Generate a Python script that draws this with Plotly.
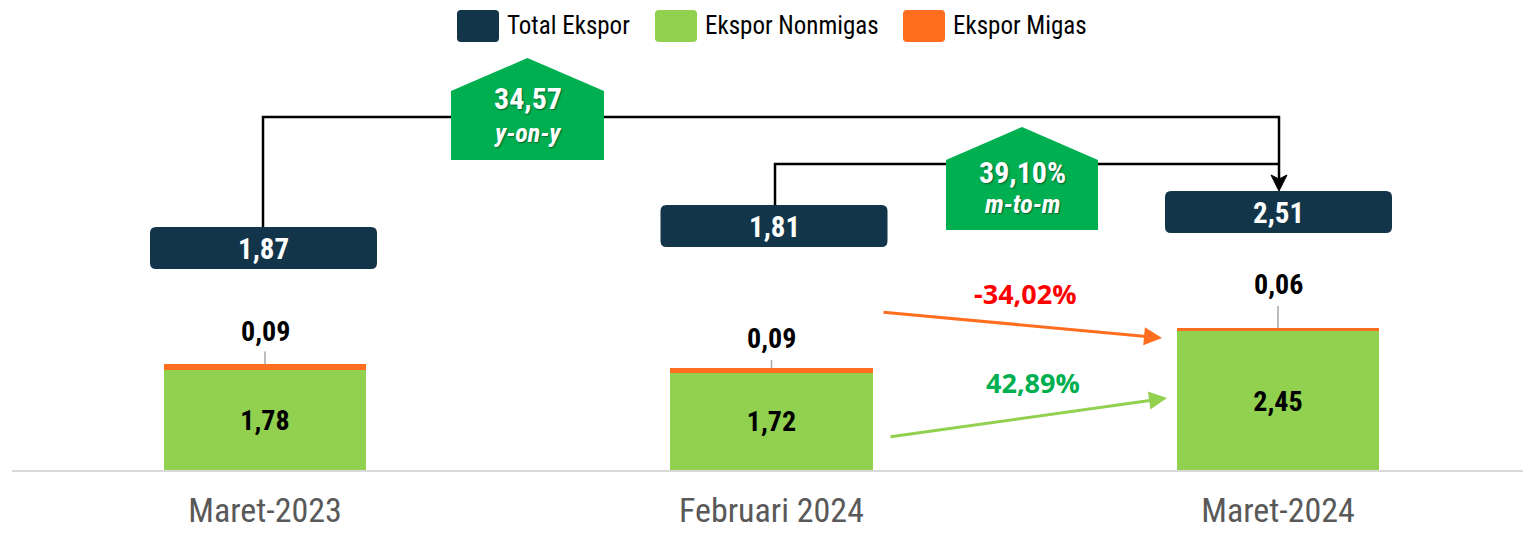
import plotly.graph_objects as go

# Export values (miliar US$)
categories = ["Maret-2023", "Februari 2024", "Maret-2024"]
nonmigas = [1.78, 1.72, 2.45]
migas = [0.09, 0.09, 0.06]
total = [1.87, 1.81, 2.51]

yoy_change = "34,57"
mtom_change = "39,10%"
migas_change = "-34,02%"
nonmigas_change = "42,89%"

# Colours
NAVY = "#12354A"
GREEN_BAR = "#92D050"
ORANGE = "#FF6E1F"
GREEN_DARK = "#00B050"
RED = "#FF0000"

NARROW = "Liberation Sans Narrow, Arial Narrow, Roboto Condensed, sans-serif"
WIDE = "Open Sans, Lato, Carlito, Calibri, sans-serif"

W, H = 1523, 533
PLOT_H = 471          # plot area height in px (axis baseline)
PX_PER_UNIT = 57.0


def fx(x):
    return x / W


def fy(y):
    return (PLOT_H - y) / PLOT_H


def fmt(v):
    return f"{v:.2f}".replace(".", ",")


def rounded_rect(x0, y0, x1, y1, r):
    p = [
        f"M {fx(x0 + r)},{fy(y0)}",
        f"L {fx(x1 - r)},{fy(y0)}",
        f"Q {fx(x1)},{fy(y0)} {fx(x1)},{fy(y0 + r)}",
        f"L {fx(x1)},{fy(y1 - r)}",
        f"Q {fx(x1)},{fy(y1)} {fx(x1 - r)},{fy(y1)}",
        f"L {fx(x0 + r)},{fy(y1)}",
        f"Q {fx(x0)},{fy(y1)} {fx(x0)},{fy(y1 - r)}",
        f"L {fx(x0)},{fy(y0 + r)}",
        f"Q {fx(x0)},{fy(y0)} {fx(x0 + r)},{fy(y0)}",
        "Z",
    ]
    return " ".join(p)


def poly(points):
    return "M " + " L ".join(f"{fx(x)},{fy(y)}" for x, y in points) + " Z"


fig = go.Figure()

fig.add_trace(go.Bar(
    x=categories, y=nonmigas, name="Ekspor Nonmigas",
    marker=dict(color=GREEN_BAR, line=dict(width=0)), width=0.4,
    texttemplate="%{y:.2f}", textposition="inside", insidetextanchor="middle",
    textfont=dict(family=NARROW, size=28, color="black", weight="bold"),
    textangle=0, showlegend=False,
))
fig.add_trace(go.Bar(
    x=categories, y=migas, name="Ekspor Migas",
    marker=dict(color=ORANGE, line=dict(width=0)), width=0.4,
    showlegend=False, hoverinfo="skip",
))

shapes = []
annotations = []

# Baseline
shapes.append(dict(type="line", xref="paper", yref="paper",
                   x0=fx(12), x1=1.0, y0=0, y1=0,
                   line=dict(color="#D9D9D9", width=2)))

# Migas value labels above each bar with leader lines
leader_px = [13, 8, 22]
label_px = [33, 29, 43]
for i, (tot, m) in enumerate(zip(total, migas)):
    if leader_px[i] > 0:
        shapes.append(dict(type="line", xref="x", yref="y", ysizemode="pixel",
                           yanchor=tot, x0=i, x1=i, y0=0, y1=leader_px[i],
                           line=dict(color="#A6A6A6", width=1.5)))
    annotations.append(dict(x=i, y=tot, xref="x", yref="y", yshift=label_px[i],
                            text=fmt(m), showarrow=False, xanchor="center",
                            yanchor="middle",
                            font=dict(family=NARROW, size=28, color="black",
                                      weight="bold")))

# Connector lines (y-on-y and m-to-m)
shapes.append(dict(type="path", xref="paper", yref="paper",
                   path=f"M {fx(263)},{fy(227)} L {fx(263)},{fy(117)} "
                        f"L {fx(1279)},{fy(117)} L {fx(1279)},{fy(180)}",
                   line=dict(color="black", width=2.5)))
shapes.append(dict(type="path", xref="paper", yref="paper",
                   path=f"M {fx(775)},{fy(205)} L {fx(775)},{fy(164)} "
                        f"L {fx(1279)},{fy(164)}",
                   line=dict(color="black", width=2.5)))
shapes.append(dict(type="path", xref="paper", yref="paper",
                   path=poly([(1271, 175), (1279, 179), (1287, 175), (1279, 191)]),
                   fillcolor="black", line=dict(color="black", width=1)))

# Total export boxes
box_tops = [227, 205, 191]
box_cx = [263.5, 774, 1278.5]
for i, tot in enumerate(total):
    x0, x1 = box_cx[i] - 113.5, box_cx[i] + 113.5
    y0, y1 = box_tops[i], box_tops[i] + 42
    shapes.append(dict(type="path", xref="paper", yref="paper",
                       path=rounded_rect(x0, y0, x1, y1, 6),
                       fillcolor=NAVY, line=dict(width=0)))
    annotations.append(dict(x=fx(box_cx[i]), y=fy(y0 + 22), xref="paper",
                            yref="paper", text=fmt(tot), showarrow=False,
                            xanchor="center", yanchor="middle",
                            font=dict(family=NARROW, size=29, color="white",
                                      weight="bold")))

# Growth "house" badges
shadow = "1px 1px 2px rgba(0,0,0,0.45)"
houses = [
    (451, 604, 58, 91, 160, yoy_change, "y-on-y", 99, 133),
    (946, 1098, 127, 160, 230, mtom_change, "m-to-m", 172, 204),
]
for x0, x1, peak, shoulder, bottom, big, small, ty1, ty2 in houses:
    cx = (x0 + x1) / 2
    shapes.append(dict(type="path", xref="paper", yref="paper",
                       path=poly([(x0, bottom), (x0, shoulder), (cx, peak),
                                  (x1, shoulder), (x1, bottom)]),
                       fillcolor=GREEN_DARK, line=dict(width=0)))
    annotations.append(dict(x=fx(cx), y=fy(ty1), xref="paper", yref="paper",
                            text=big, showarrow=False, xanchor="center",
                            yanchor="middle",
                            font=dict(family=NARROW, size=30, color="white",
                                      weight="bold", shadow=shadow)))
    annotations.append(dict(x=fx(cx), y=fy(ty2), xref="paper", yref="paper",
                            text=small, showarrow=False, xanchor="center",
                            yanchor="middle",
                            font=dict(family=NARROW, size=26, color="white",
                                      weight="bold", style="italic",
                                      shadow=shadow)))

# Component change arrows
annotations.append(dict(x=fx(1162), y=fy(338), xref="paper", yref="paper",
                        ax=882 - 1162, ay=312 - 338, axref="pixel", ayref="pixel",
                        showarrow=True, arrowhead=2, arrowsize=1.2, arrowwidth=3,
                        arrowcolor=ORANGE, text=""))
annotations.append(dict(x=fx(1167), y=fy(398), xref="paper", yref="paper",
                        ax=889 - 1167, ay=437 - 398, axref="pixel", ayref="pixel",
                        showarrow=True, arrowhead=2, arrowsize=1.2, arrowwidth=3,
                        arrowcolor=GREEN_BAR, text=""))
annotations.append(dict(x=fx(1025), y=fy(293), xref="paper", yref="paper",
                        text=migas_change, showarrow=False, xanchor="center",
                        yanchor="middle",
                        font=dict(family=WIDE, size=27, color=RED, weight="bold")))
annotations.append(dict(x=fx(1033), y=fy(382), xref="paper", yref="paper",
                        text=nonmigas_change, showarrow=False, xanchor="center",
                        yanchor="middle",
                        font=dict(family=WIDE, size=27, color=GREEN_DARK,
                                  weight="bold")))

# Legend drawn as swatches + labels
legend_items = [
    (457, NAVY, "Total Ekspor"),
    (655, GREEN_BAR, "Ekspor Nonmigas"),
    (903, ORANGE, "Ekspor Migas"),
]
for lx, col, label in legend_items:
    shapes.append(dict(type="path", xref="paper", yref="paper",
                       path=rounded_rect(lx, 10, lx + 42, 42, 4),
                       fillcolor=col, line=dict(width=0)))
    annotations.append(dict(x=fx(lx + 48), y=fy(26), xref="paper", yref="paper",
                            text=label, showarrow=False, xanchor="left",
                            yanchor="middle",
                            font=dict(family=NARROW, size=25, color="black")))

x_left = -265 / 506.5
x_right = (W - 265) / 506.5

fig.update_layout(
    width=W, height=H,
    margin=dict(l=0, r=0, t=0, b=H - PLOT_H),
    barmode="stack", bargap=0.6,
    separators=",.",
    plot_bgcolor="white", paper_bgcolor="white",
    showlegend=False,
    xaxis=dict(range=[x_left, x_right], showgrid=False, zeroline=False,
               showline=False, ticks="", fixedrange=True, automargin=False,
               ticklabelstandoff=16,
               tickfont=dict(family=NARROW, size=34, color="#595959")),
    yaxis=dict(range=[0, PLOT_H / PX_PER_UNIT], visible=False, fixedrange=True,
               automargin=False),
    shapes=shapes,
    annotations=annotations,
)

fig.write_html("out.html")
